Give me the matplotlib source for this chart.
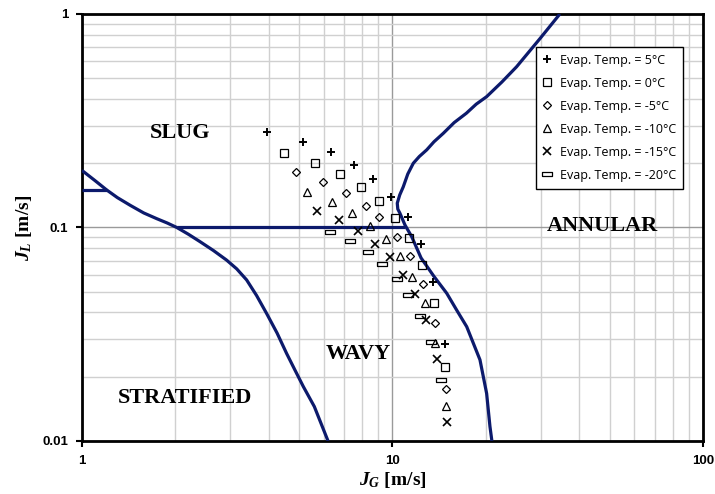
import numpy as np
import matplotlib
matplotlib.use('Agg')
import matplotlib.pyplot as plt

# Measured points, JG [m/s] and JL [m/s], per evaporation temperature
jg_5 = [3.93, 5.14, 6.34, 7.52, 8.68, 9.89, 11.19, 12.36, 13.53, 14.79]
jl_5 = [0.281, 0.252, 0.225, 0.196, 0.169, 0.139, 0.112, 0.0837, 0.0554, 0.0284]
jg_0 = [4.48, 5.63, 6.77, 7.92, 9.05, 10.19, 11.30, 12.42, 13.63, 14.76]
jl_0 = [0.223, 0.200, 0.178, 0.154, 0.133, 0.111, 0.089, 0.0667, 0.0442, 0.0223]
jg_m5 = [4.88, 5.99, 7.07, 8.20, 9.05, 10.36, 11.39, 12.57, 13.71, 14.84]
jl_m5 = [0.181, 0.163, 0.145, 0.126, 0.112, 0.0906, 0.0735, 0.0542, 0.0358, 0.0175]
jg_m10 = [5.29, 6.37, 7.42, 8.47, 9.51, 10.57, 11.58, 12.73, 13.71, 14.84]
jl_m10 = [0.147, 0.132, 0.117, 0.102, 0.0881, 0.0733, 0.0584, 0.0442, 0.0289, 0.0146]
jg_m15 = [5.73, 6.74, 7.76, 8.78, 9.85, 10.83, 11.82, 12.82, 13.88, 14.95]
jl_m15 = [0.120, 0.108, 0.0963, 0.0837, 0.0728, 0.0599, 0.0487, 0.0369, 0.0241, 0.0123]
jg_m20 = [6.29, 7.30, 8.32, 9.25, 10.31, 11.24, 12.26, 13.30, 14.33]
jl_m20 = [0.0956, 0.0865, 0.0768, 0.0672, 0.0574, 0.0483, 0.0385, 0.0290, 0.0193]

# flow pattern map boundaries
strat_x = [1.0, 1.1, 1.20, 1.30, 1.43, 1.58, 1.74, 1.88, 2.02, 2.2, 2.40, 2.65, 2.92,
           3.15, 3.39, 3.65, 3.93, 4.25, 4.56, 4.85, 5.16, 5.6, 6.20]
strat_y = [0.185, 0.166, 0.150, 0.138, 0.127, 0.117, 0.110, 0.105, 0.100, 0.093, 0.0858,
           0.078, 0.0704, 0.064, 0.0568, 0.048, 0.0396, 0.032, 0.0257, 0.0215, 0.0180,
           0.0145, 0.010]
short_x = [1.0, 1.20]
short_y = [0.150, 0.150]
slug_x = [2.02, 10.97]
slug_y = [0.100, 0.100]
ann_x = [34.6, 29.9, 25.1, 22.5, 20.1, 18.6, 17.3, 15.8, 14.57, 13.6, 12.89, 12.2, 11.67,
         11.2, 10.83, 10.55, 10.36, 10.4, 10.57, 10.97, 11.53, 12.36, 13.6, 14.95, 16.1,
         17.34, 19.13, 20.1, 20.6, 20.9]
ann_y = [1.0, 0.769, 0.566, 0.48, 0.410, 0.378, 0.343, 0.31, 0.276, 0.252, 0.231, 0.215,
         0.200, 0.178, 0.155, 0.142, 0.130, 0.122, 0.1165, 0.1027, 0.0906, 0.0720, 0.059,
         0.0492, 0.041, 0.0343, 0.0240, 0.0167, 0.0117, 0.010]

plt.rcParams['mathtext.fontset'] = 'custom'
plt.rcParams['mathtext.it'] = 'Liberation Serif:italic:bold'
plt.rcParams['mathtext.rm'] = 'Liberation Serif:bold'

fig, ax = plt.subplots(figsize=(7.15, 4.94), dpi=100)
fig.subplots_adjust(left=0.1147, right=0.9832, top=0.9717, bottom=0.1073)

ax.set_xscale('log')
ax.set_yscale('log')
ax.set_xlim(1, 100)
ax.set_ylim(0.01, 1)

ax.grid(True, which='minor', color='#d0d0d0', lw=1.0)
ax.grid(True, which='major', color='#9a9a9a', lw=1.0)
ax.set_axisbelow(True)

navy = '#0c1a6c'
for xs, ys in [(strat_x, strat_y), (short_x, short_y), (slug_x, slug_y), (ann_x, ann_y)]:
    ax.plot(xs, ys, color=navy, lw=2.3, solid_capstyle='butt', solid_joinstyle='round', zorder=3)

rect = [(-1, -0.45), (1, -0.45), (1, 0.45), (-1, 0.45), (-1, -0.45)]
kw = dict(ls='none', color='black', mfc='none', zorder=4)
ax.plot(jg_5, jl_5, marker='+', ms=6, mew=1.4, label='Evap. Temp. = 5°C', **kw)
ax.plot(jg_0, jl_0, marker='s', ms=5.5, mew=0.9, label='Evap. Temp. = 0°C', **kw)
ax.plot(jg_m5, jl_m5, marker='D', ms=4.2, mew=0.9, label='Evap. Temp. = -5°C', **kw)
ax.plot(jg_m10, jl_m10, marker='^', ms=6, mew=0.9, label='Evap. Temp. = -10°C', **kw)
ax.plot(jg_m15, jl_m15, marker='x', ms=5.5, mew=1.2, label='Evap. Temp. = -15°C', **kw)
ax.plot(jg_m20, jl_m20, marker=rect, ms=7, mew=0.9, label='Evap. Temp. = -20°C', **kw)

serif = dict(family='Liberation Serif', fontweight='bold', fontsize=16, ha='center', va='center')
ax.text(2.07, 0.277, 'SLUG', **serif)
ax.text(2.15, 0.0159, 'STRATIFIED', **serif)
ax.text(7.74, 0.0256, 'WAVY', **serif)
ax.text(47.3, 0.102, 'ANNULAR', **serif)

for s in ax.spines.values():
    s.set_linewidth(2)
    s.set_color('black')

ax.set_xticks([1, 10, 100])
ax.set_xticklabels(['1', '10', '100'])
ax.set_yticks([0.01, 0.1, 1])
ax.set_yticklabels(['0.01', '0.1', '1'])
ax.tick_params(which='major', direction='out', length=4, width=1.5, pad=6)
ax.tick_params(which='minor', length=0)
for lab in ax.get_xticklabels() + ax.get_yticklabels():
    lab.set_fontfamily('Liberation Sans')
    lab.set_fontweight('bold')
    lab.set_fontsize(9.5)

ax.set_xlabel(r'$J_G$ [m/s]', fontsize=14, fontfamily='Liberation Serif', fontweight='bold', labelpad=2)
ax.set_ylabel(r'$J_L$ [m/s]', fontsize=14, fontfamily='Liberation Serif', fontweight='bold', labelpad=6)

leg = ax.legend(loc='upper right', bbox_to_anchor=(0.968, 0.9227), borderaxespad=0,
                fancybox=False, edgecolor='black', framealpha=1, borderpad=0.55,
                labelspacing=0.8, handlelength=0.8, handletextpad=0.6,
                prop={'family': 'Open Sans', 'size': 9.0})
leg.get_frame().set_linewidth(1.0)
leg.set_zorder(6)

plt.savefig('out.png', dpi=100)
